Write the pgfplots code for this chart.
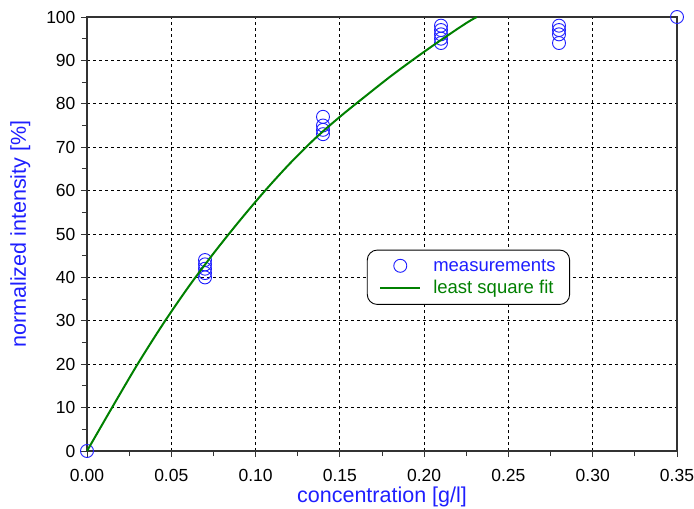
\documentclass[border=0pt]{standalone}
\usepackage{fontspec}
\setmainfont{Liberation Sans}
\usepackage{pgfplots}
\pgfplotsset{compat=1.18}
\definecolor{mblue}{RGB}{30,30,255}
\definecolor{fitgreen}{RGB}{0,128,0}
\begin{document}
\begin{tikzpicture}
\begin{axis}[
  name=ax,
  width=590pt, height=434pt, scale only axis,
  xmin=0, xmax=0.35, ymin=0, ymax=100,
  xtick={0,0.05,0.10,0.15,0.20,0.25,0.30,0.35},
  ytick={0,10,20,30,40,50,60,70,80,90,100},
  minor x tick num=1, minor y tick num=1,
  tick pos=left, tick align=outside,
  major tick length=6pt, minor tick length=5pt,
  tick style={black!80, line width=0.9pt},
  xticklabel style={/pgf/number format/fixed, /pgf/number format/fixed zerofill, /pgf/number format/precision=2, yshift=-9pt},
  /pgf/number format/assume math mode=true,
  tick label style={font=\fontsize{17.5}{20}\selectfont},
  yticklabel style={xshift=-2pt},
  grid=major,
  major grid style={black, line width=0.8pt, dash pattern=on 3pt off 3pt},
  axis line style={black!80, line width=1.2pt},
  xlabel={concentration [g/l]},
  ylabel={normalized intensity [\%]},
  xlabel style={font=\fontsize{21.5}{23}\selectfont, text=mblue, yshift=1.5pt},
  ylabel style={font=\fontsize{21.5}{23}\selectfont, text=mblue, yshift=9pt},
  clip mode=individual,
  legend style={at={(axis cs:0.166,46.4)}, anchor=north west,
    draw=black, line width=0.9pt, rounded corners=10pt,
    font=\fontsize{18.5}{22}\selectfont,
    inner xsep=12pt, inner ysep=7pt, row sep=4pt},
  legend cell align=left,
  legend image code/.code={\draw[#1] (0pt,0pt) -- (40pt,0pt);},
]
\addplot[only marks, mark=o, mark size=6.5pt, mblue, line width=0.9pt,
  legend image code/.code={\draw[##1] plot coordinates {(20pt,0pt)};}]
  coordinates {
  (0,0)
  (0.07,44) (0.07,43) (0.07,42) (0.07,41) (0.07,40)
  (0.14,77) (0.14,75) (0.14,74) (0.14,73)
  (0.21,98) (0.21,97) (0.21,96) (0.21,95) (0.21,94)
  (0.28,98) (0.28,97) (0.28,96) (0.28,94)
  (0.35,100)
  };
\addlegendentry{\hspace*{10pt}\textcolor{mblue}{measurements}}
\addplot[fitgreen, line width=2pt, no marks, smooth, tension=0.5] coordinates {
  (0,0) (0.015,10.1) (0.03,20.0) (0.045,29.2) (0.06,37.7) (0.075,45.5)
  (0.09,52.8) (0.105,59.7) (0.12,66.1) (0.135,71.9) (0.15,77.0)
  (0.165,81.7) (0.18,86.3) (0.195,90.6) (0.21,94.7) (0.225,98.6) (0.2312,100)
  };
\addlegendentry{\hspace*{10pt}\textcolor{fitgreen}{least square fit}}
\end{axis}
\pgfresetboundingbox
\path[use as bounding box] ([shift={(-87pt,-57pt)}]ax.south west) rectangle ([shift={(17pt,17pt)}]ax.north east);
\end{tikzpicture}
\end{document}
